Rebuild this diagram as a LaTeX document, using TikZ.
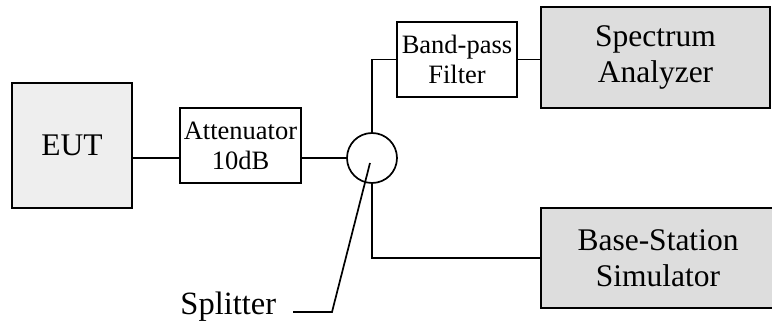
\documentclass[tikz,border=0pt]{standalone}
\usepackage{fontspec}
\setmainfont{Liberation Serif}
\usetikzlibrary{positioning,calc}
\definecolor{eutgray}{HTML}{EEEEEE}
\definecolor{instgray}{HTML}{DDDDDD}

\begin{document}
\begin{tikzpicture}[x=1pt,y=-1pt,line width=1.7pt,
    bigtext/.style={font=\fontsize{31.5}{36}\selectfont},
    smalltext/.style={font=\fontsize{26.5}{30}\selectfont},
    unitbox/.style={draw,align=center,inner sep=0pt}]
  \useasboundingbox (0,0) rectangle (772,323);

  % Device under test
  \node[unitbox,fill=eutgray,bigtext,minimum width=120pt,minimum height=125pt]
    (eut) at (72,145.5) {EUT};

  % Attenuator and splitter
  \node[unitbox,smalltext,minimum width=121pt,minimum height=75pt]
    (att) at (240.5,145.5) {Attenuator\\10dB};
  \node[draw,circle,minimum size=50pt,inner sep=0pt] (split) at (372,158) {};

  % Filter branch
  \node[unitbox,smalltext,minimum width=120pt,minimum height=75pt]
    (bpf) at (457,59.5) {Band-pass\\Filter};
  \node[unitbox,fill=instgray,bigtext,minimum width=229pt,minimum height=101pt]
    (sa) at (655.5,57.5) {Spectrum\\Analyzer};

  % Simulator branch
  \node[unitbox,fill=instgray,bigtext,minimum width=234pt,minimum height=100pt]
    (bss) at (658,258) {Base-Station\\Simulator};

  % Connections
  \draw (eut.east |- split.west) -- (att.west |- split.west);
  \draw (att.east |- split.west) -- (split.west);
  \draw (split.north) |- (bpf.west);
  \draw (bpf.east) -- (bpf.east -| sa.west);
  \draw (split.south) |- (bss.west);

  % Splitter label
  \node[bigtext,font=\fontsize{32.5}{36}\selectfont,inner sep=0pt,anchor=base east]
    (splitlbl) at (277,315) {Splitter};
  \coordinate (splittip) at (370,163);
  \coordinate (splitbend) at (332,312);
  \coordinate (lblend) at (293,312);
  \draw (splittip) -- (splitbend) -- (lblend);
\end{tikzpicture}
\end{document}
